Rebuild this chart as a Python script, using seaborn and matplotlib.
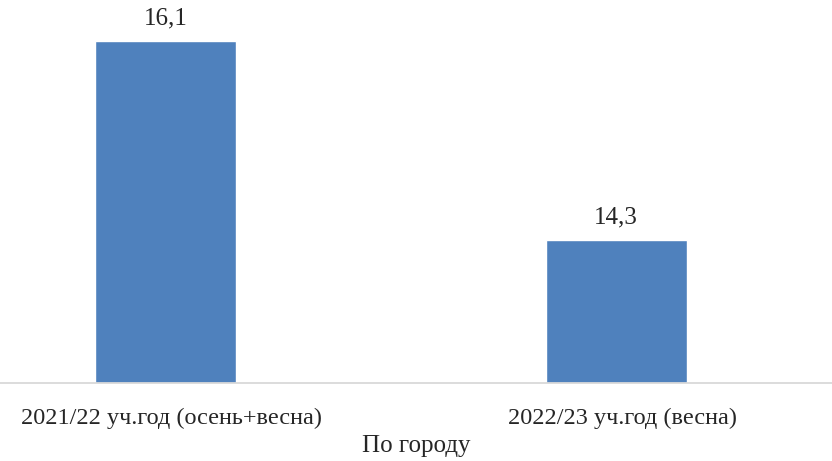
import pandas as pd
import matplotlib.pyplot as plt
import matplotlib.transforms as mtransforms
import seaborn as sns

# данные
categories = ["2021/22 уч.год (осень+весна)", "2022/23 уч.год (весна)"]
values = [16.1, 14.3]
value_labels = ["16,1", "14,3"]

df = pd.DataFrame({"period": categories, "value": values})

sns.set_style("white")
plt.rcParams["font.family"] = ["Liberation Serif", "DejaVu Serif"]

fig = plt.figure(figsize=(8.32, 4.61), dpi=100)
ax = fig.add_axes([0, 0.169, 1, 0.831])

sns.barplot(data=df, x="period", y="value", color="#4f81bd", saturation=1,
            width=0.313, ax=ax)

ax.set_ylim(13, 16.47)
ax.set_xlim(-0.367, 1.479)

ax.bar_label(ax.containers[0], labels=value_labels, padding=8, fontsize=18)

for s in ["top", "right", "left"]:
    ax.spines[s].set_visible(False)
ax.spines["bottom"].set_color("#d9d9d9")
ax.spines["bottom"].set_linewidth(1.3)
ax.set_yticks([])
ax.tick_params(axis="x", length=0, labelsize=17.5, pad=18)
ax.set_ylabel("")
ax.set_xlabel("По городу", fontsize=18, labelpad=4)

# подписи категорий в оригинале чуть смещены вправо
shift = mtransforms.ScaledTranslation(6 / 100, 0, fig.dpi_scale_trans)
for lbl in ax.get_xticklabels():
    lbl.set_transform(lbl.get_transform() + shift)

fig.savefig("out.png", dpi=100)
